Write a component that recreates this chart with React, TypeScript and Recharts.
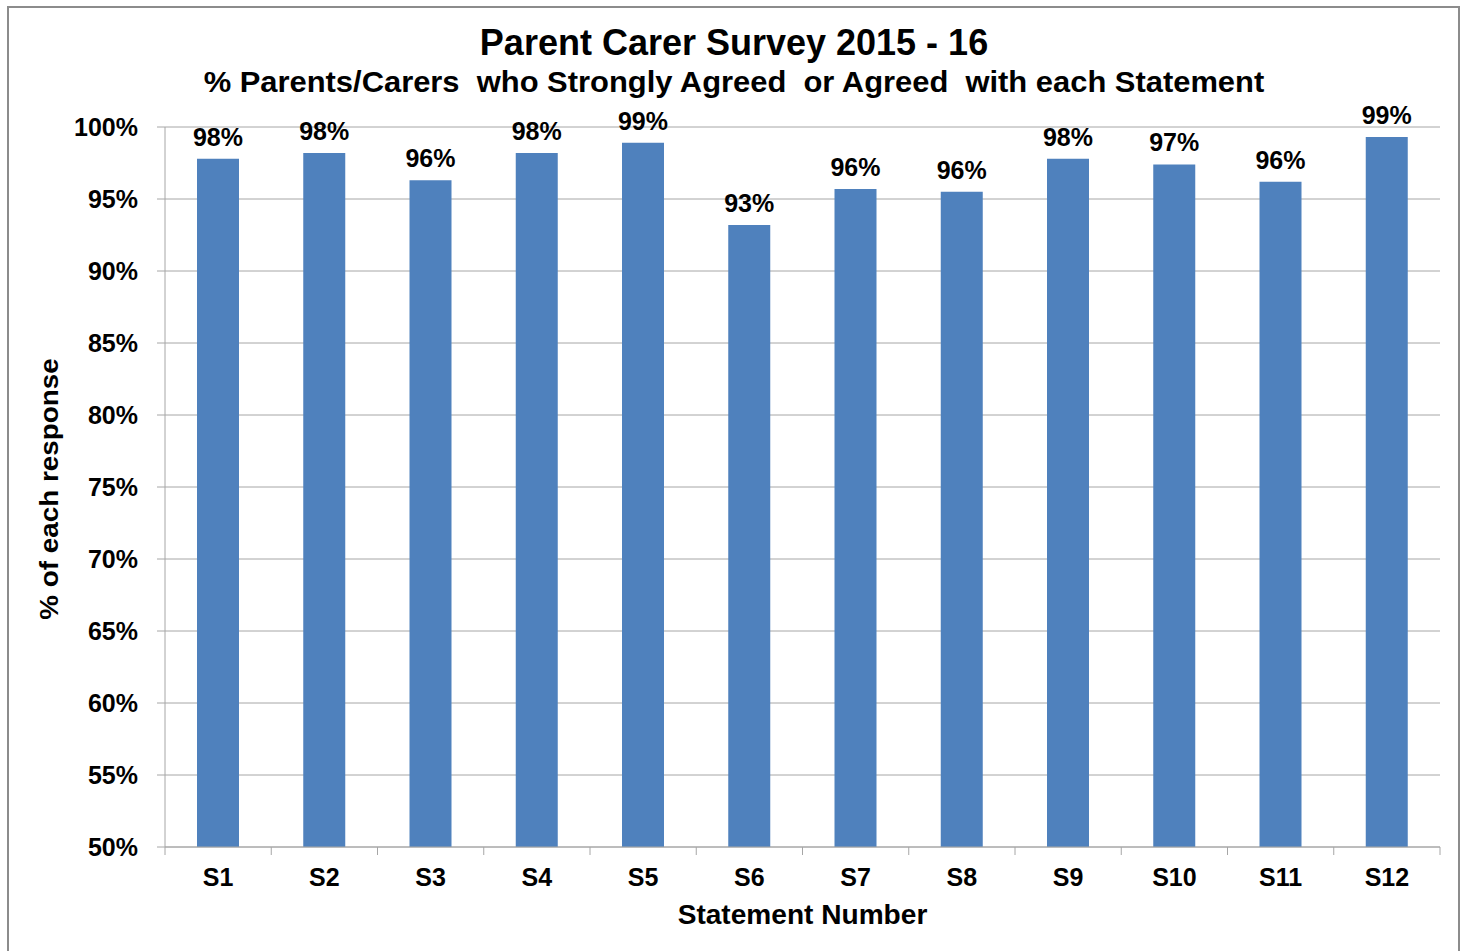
import React from "react";
import { BarChart, Bar, XAxis, YAxis, CartesianGrid, LabelList } from "recharts";

const categories = ["S1", "S2", "S3", "S4", "S5", "S6", "S7", "S8", "S9", "S10", "S11", "S12"];
const agreedPct = [97.8, 98.2, 96.3, 98.2, 98.9, 93.2, 95.7, 95.5, 97.8, 97.4, 96.2, 99.3];
const yTicks = [50, 55, 60, 65, 70, 75, 80, 85, 90, 95, 100];

const data = categories.map((c, i) => ({ name: c, value: agreedPct[i] }));

const FONT = '"Liberation Sans", Arial, sans-serif';
const GRID = "#a6a6a6";

const XTick = (props: any) => {
  const { x, y, payload, index } = props;
  const half = payload && payload.offset ? payload.offset : 53.125;
  const last = index === categories.length - 1;
  return (
    <g>
      <line x1={x - half} x2={x - half} y1={y} y2={y + 8} stroke={GRID} strokeWidth={1} />
      {last && <line x1={x + half} x2={x + half} y1={y} y2={y + 8} stroke={GRID} strokeWidth={1} />}
      <text x={x} y={y + 21} dy="0.71em" textAnchor="middle" fill="#000" fontFamily={FONT} fontWeight="bold" fontSize={25}>
        {payload.value}
      </text>
    </g>
  );
};

export default function App() {
  return (
    <div style={{ position: "absolute", left: 0, top: 0, width: 1468, height: 951, background: "#fff", overflow: "hidden", fontFamily: FONT }}>
      <div style={{ position: "absolute", left: 7, top: 6, width: 1453, height: 1000, border: "2px solid #8c8c8c", boxSizing: "border-box" }} />
      <div style={{ position: "absolute", left: 0, top: 0, width: 1468 }}>
        <BarChart width={1468} height={951} data={data} margin={{ top: 127, right: 28, bottom: 44, left: 0 }}>
          <CartesianGrid vertical={false} stroke={GRID} strokeWidth={1} />
          <XAxis dataKey="name" height={60} axisLine={{ stroke: GRID }} tickLine={false} tickSize={0} tickMargin={0} tick={<XTick />} interval={0} />
          <YAxis
            width={165}
            domain={[50, 100]}
            ticks={yTicks}
            interval={0}
            tickFormatter={(v: number) => `${v}%`}
            axisLine={{ stroke: GRID }}
            tickLine={{ stroke: GRID }}
            tickSize={8}
            tickMargin={19}
            tick={{ fill: "#000", fontFamily: FONT, fontWeight: "bold", fontSize: 25 }}
          />
          <Bar dataKey="value" fill="#4f81bd" barSize={42} isAnimationActive={false}>
            <LabelList
              dataKey="value"
              position="top"
              offset={13}
              formatter={(v: any) => `${Math.round(Number(v))}%`}
              style={{ fill: "#000", fontFamily: FONT, fontWeight: "bold", fontSize: 25 }}
            />
          </Bar>
        </BarChart>
      </div>
      <div style={{ position: "absolute", left: 0, top: 21, width: 1468, textAlign: "center", fontWeight: "bold", fontSize: 36, lineHeight: "44px", color: "#000" }}>
        Parent Carer Survey 2015 - 16
      </div>
      <div style={{ position: "absolute", left: 0, top: 64, width: 1468, textAlign: "center", fontWeight: "bold", fontSize: 30, lineHeight: "36px", color: "#000", whiteSpace: "pre", transform: "scaleX(1.03)", transformOrigin: "736px 50%" }}>
        {"% Parents/Carers  who Strongly Agreed  or Agreed  with each Statement"}
      </div>
      <div style={{ position: "absolute", left: 165, top: 897, width: 1275, textAlign: "center", fontWeight: "bold", fontSize: 27, lineHeight: "36px", color: "#000", transform: "scaleX(1.04)" }}>
        Statement Number
      </div>
      <div style={{ position: "absolute", left: 49, top: 489, width: 0, height: 0 }}>
        <div style={{ position: "absolute", left: -200, top: -18, width: 400, textAlign: "center", fontWeight: "bold", fontSize: 26, lineHeight: "36px", color: "#000", transform: "rotate(-90deg) scaleX(1.07)", whiteSpace: "nowrap" }}>
          % of each response
        </div>
      </div>
    </div>
  );
}
